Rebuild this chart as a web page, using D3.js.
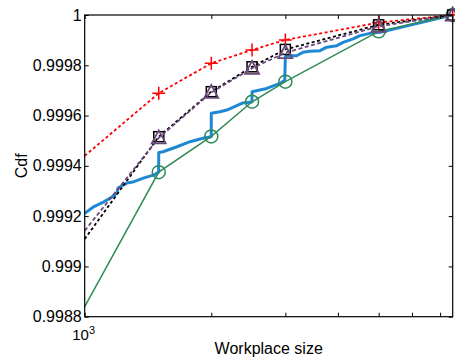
<!DOCTYPE html>
<html>
<head>
<meta charset="utf-8">
<script src="https://cdn.jsdelivr.net/npm/d3@7"></script>
<style>
  html, body { margin: 0; padding: 0; background: #fff; }
  svg { display: block; font-family: "Liberation Sans", Arial, Helvetica, sans-serif; }
</style>
</head>
<body>
<svg id="chart" width="455" height="361"></svg>
<script>
// Workplace sizes where the model curves are sampled
const sizes = [1000, 1500, 2000, 2500, 3000, 5000, 7500];
// Model CDF values at those sizes (first point carries no marker)
const cdfPlus     = [0.99944, 0.999689, 0.999808, 0.999861, 0.999901, 0.99997, 1.0];
const cdfSquare   = [0.999109, 0.999516, 0.999695, 0.999794, 0.999863, 0.999961, 1.0];
const cdfTriangle = [0.999142, 0.999511, 0.999692, 0.999788, 0.999850, 0.999955, 1.0];
const cdfCircle   = [0.99884, 0.999375, 0.999517, 0.999655, 0.999735, 0.999935, 1.0];

// Empirical CDF (sizes and values)
const empSize = [1000, 1052, 1111, 1161, 1193, 1200, 1260, 1310, 1384, 1462, 1499, 1500, 1535, 1658, 1780, 1911, 1999, 2000,
  2098, 2176, 2379, 2499, 2500, 2709, 2913, 2990, 3000, 3023, 3193, 3304, 3434, 3628, 3763, 3976, 4116, 4347, 4516, 4770, 5039, 7391, 7500];
const empCdf = [0.999211, 0.999238, 0.999257, 0.999276, 0.999292, 0.999312, 0.999332, 0.999337, 0.999352, 0.999364, 0.999376, 0.999453,
  0.999456, 0.999476, 0.999496, 0.999510, 0.999516, 0.999609, 0.999615, 0.999622, 0.999650, 0.999654, 0.999695, 0.999708, 0.999728,
  0.999741, 0.999833, 0.999838, 0.999838, 0.999852, 0.999856, 0.999858, 0.999872, 0.999878, 0.999891, 0.999905, 0.999918, 0.999927,
  0.999931, 0.999998, 1.0];

const xTicks = [1000, 2000, 3000, 4000, 5000, 6000, 7000];
const yTicks = [0.9988, 0.999, 0.9992, 0.9994, 0.9996, 0.9998, 1];
const yTickLabels = ["0.9988", "0.999", "0.9992", "0.9994", "0.9996", "0.9998", "1"];

const plotLeft = 84.7, plotTop = 15, plotRight = 452.7, plotBottom = 316.7;
const svg = d3.select("#chart");

const x = d3.scaleLog().domain([1000, 7500]).range([plotLeft, plotRight]);
const y = d3.scaleLinear().domain([0.9988, 1]).range([plotBottom, plotTop]);

const line = d3.line().x(d => x(d[0])).y(d => y(d[1]));
const zipped = vals => sizes.map((s, i) => [s, vals[i]]);

const plot = svg.append("g");

// Empirical curve
plot.append("path")
  .datum(empSize.map((s, i) => [s, empCdf[i]]))
  .attr("d", line)
  .attr("fill", "none")
  .attr("stroke", "#1f88d4")
  .attr("stroke-width", 3)
  .attr("stroke-linejoin", "round");

const series = [
  { vals: cdfCircle, color: "#2e8b57", dash: null, marker: "circle" },
  { vals: cdfPlus, color: "#ff0000", dash: "3,2.5", marker: "plus" },
  { vals: cdfSquare, color: "#000000", dash: "3,2.5", marker: "square" },
  { vals: cdfTriangle, color: "#6b4a7a", dash: "4,2.5", marker: "triangle" }
];

series.forEach(s => {
  const pts = zipped(s.vals);
  plot.append("path")
    .datum(pts)
    .attr("d", line)
    .attr("fill", "none")
    .attr("stroke", s.color)
    .attr("stroke-width", s.dash ? 1.8 : 1.5)
    .attr("stroke-dasharray", s.dash);

  const g = plot.append("g").attr("fill", "none").attr("stroke", s.color)
    .attr("stroke-width", s.marker === "triangle" ? 1.8 : 1.5);
  pts.slice(1).forEach(p => {
    const cx = x(p[0]), cy = y(p[1]);
    if (s.marker === "circle") {
      g.append("circle").attr("cx", cx).attr("cy", cy).attr("r", 6.5);
    } else if (s.marker === "plus") {
      g.append("path").attr("d", `M${cx - 6.5},${cy}H${cx + 6.5}M${cx},${cy - 6.5}V${cy + 6.5}`);
    } else if (s.marker === "square") {
      g.append("rect").attr("x", cx - 5).attr("y", cy - 5).attr("width", 10).attr("height", 10);
    } else {
      g.append("path").attr("d", `M${cx},${cy - 7.5}L${cx + 7},${cy + 5.5}L${cx - 7},${cy + 5.5}Z`);
    }
  });
});

// Axes box with inward ticks on all sides
const axisG = svg.append("g");
axisG.append("g").attr("transform", `translate(${plotLeft},0)`)
  .call(d3.axisLeft(y).tickValues(yTicks).tickSize(-4).tickPadding(3)
    .tickFormat((d, i) => yTickLabels[i]));
axisG.append("g").attr("transform", `translate(${plotRight},0)`)
  .call(d3.axisRight(y).tickValues(yTicks).tickSize(-4).tickFormat(""));
axisG.append("g").attr("transform", `translate(0,${plotBottom})`)
  .call(d3.axisBottom(x).tickValues(xTicks).tickSize(-4).tickFormat(""));
axisG.append("g").attr("transform", `translate(0,${plotTop})`)
  .call(d3.axisTop(x).tickValues(xTicks).tickSize(-4).tickFormat(""));

axisG.selectAll(".domain").remove();
axisG.selectAll(".tick line").attr("stroke", "#000").attr("stroke-width", 1);
axisG.selectAll(".tick text").attr("font-size", 16).attr("fill", "#000")
  .attr("font-family", "'Liberation Sans', Arial, sans-serif");

axisG.append("rect")
  .attr("x", plotLeft).attr("y", plotTop)
  .attr("width", plotRight - plotLeft).attr("height", plotBottom - plotTop)
  .attr("fill", "none").attr("stroke", "#000").attr("stroke-width", 1.2);

// Only the first decade is labelled on the x axis
const xl = svg.append("text")
  .attr("x", x(1000) - 1).attr("y", 340)
  .attr("text-anchor", "middle").attr("font-size", 15).attr("fill", "#000");
xl.append("tspan").text("10");
xl.append("tspan").attr("font-size", 11).attr("dy", -6.5).text("3");

svg.append("text")
  .attr("x", (plotLeft + plotRight) / 2).attr("y", 354)
  .attr("text-anchor", "middle").attr("font-size", 16).attr("fill", "#000")
  .text("Workplace size");

svg.append("text")
  .attr("transform", `translate(27,${(plotTop + plotBottom) / 2}) rotate(-90)`)
  .attr("text-anchor", "middle").attr("font-size", 16).attr("fill", "#000")
  .text("Cdf");
</script>
</body>
</html>
